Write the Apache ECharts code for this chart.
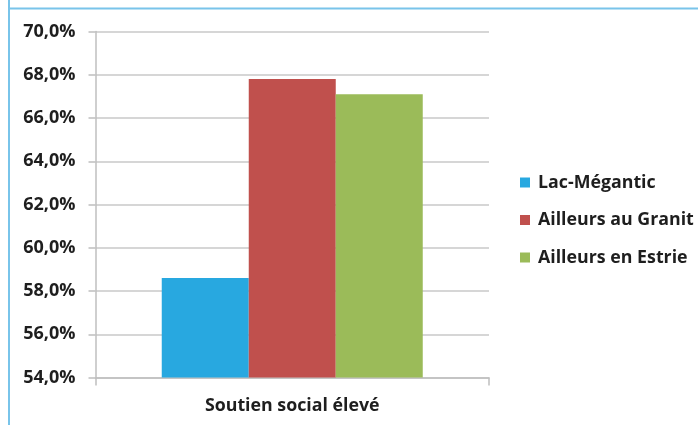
<!DOCTYPE html>
<html>
<head>
<meta charset="utf-8">
<script src="https://cdn.jsdelivr.net/npm/echarts@6/dist/echarts.min.js"></script>
<style>html,body{margin:0;padding:0;background:#fff;}#c{width:698px;height:425px;}</style>
</head>
<body>
<div id="c"></div>
<script>
const categories = ['Soutien social élevé'];
const seriesNames = ['Lac-Mégantic', 'Ailleurs au Granit', 'Ailleurs en Estrie'];
const lacMegantic = [58.6];
const ailleursGranit = [67.8];
const ailleursEstrie = [67.1];
const colors = ['#28A8E0', '#C0504D', '#9BBB59'];

const chart = echarts.init(document.getElementById('c'));
const font = '"Open Sans", "Liberation Sans", sans-serif';
const values = [lacMegantic, ailleursGranit, ailleursEstrie];
chart.setOption({
  animation: false,
  backgroundColor: '#fff',
  graphic: [
    { type: 'line', shape: { x1: 9, y1: 0, x2: 9, y2: 425 }, style: { stroke: '#79C4EA', lineWidth: 2 } },
    { type: 'line', shape: { x1: 8, y1: 8.5, x2: 698, y2: 8.5 }, style: { stroke: '#79C4EA', lineWidth: 2 } }
  ],
  grid: { left: 95.5, top: 31.5, width: 393.5, height: 346 },
  legend: {
    orient: 'vertical', left: 520, top: 173, padding: 0,
    itemWidth: 10, itemHeight: 10, itemGap: 18.5,
    icon: 'rect',
    textStyle: { fontFamily: font, fontWeight: 'bold', fontSize: 17.8, color: '#1e1e1e', lineHeight: 19, padding: [0, 0, 0, 3] },
    data: seriesNames
  },
  xAxis: {
    type: 'category', data: categories, boundaryGap: true,
    axisLine: { show: true, lineStyle: { color: '#BFBFBF', width: 1.5 } },
    axisTick: { show: true, length: 8, lineStyle: { color: '#BFBFBF', width: 1.5 } },
    axisLabel: { margin: 19, fontFamily: font, fontWeight: 'bold', fontSize: 17.8, color: '#1e1e1e' }
  },
  yAxis: {
    type: 'value', min: 54, max: 70, interval: 2,
    axisLine: { show: true, lineStyle: { color: '#BFBFBF', width: 1.5 } },
    axisTick: { show: true, length: 7, lineStyle: { color: '#BFBFBF', width: 1.5 } },
    splitLine: { show: true, lineStyle: { color: '#C8C8C8', width: 1.5 } },
    axisLabel: {
      margin: 20, fontFamily: font, fontWeight: 'bold', fontSize: 18, color: '#1e1e1e',
      formatter: v => v.toFixed(1).replace('.', ',') + '%'
    }
  },
  series: seriesNames.map((n, i) => ({
    name: n, type: 'bar', data: values[i], barWidth: 87, barGap: '0%',
    itemStyle: { color: colors[i] }
  }))
});
</script>
</body>
</html>
